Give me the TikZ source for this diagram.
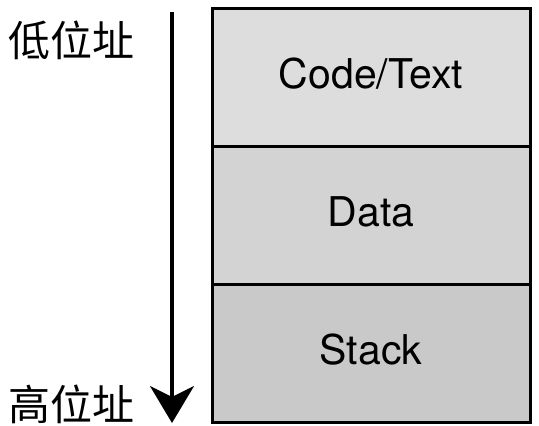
\documentclass[tikz,border=0pt]{standalone}
\usepackage{fontspec}
\setmainfont{TeX Gyre Heros}
\newfontfamily\cjk{Noto Sans CJK TC}
\usetikzlibrary{positioning}
\usetikzlibrary{arrows.meta}
\definecolor{segtop}{RGB}{221,221,221}
\definecolor{segmid}{RGB}{211,211,212}
\definecolor{segbot}{RGB}{201,201,202}

\begin{document}
\begin{tikzpicture}[
            x = 1pt, y = -1pt,
            > = {Stealth[length=37pt, width=44pt, inset=11pt]}, % big arrow head
            node distance = 0pt % segments touch each other
        ]

        \tikzstyle{segment}=[
            draw,
            line width = 3pt,
            minimum width = 318pt,
            minimum height = 138pt,
            inner sep = 0pt,
            outer sep = 0pt,
            text height = 30pt,
            text depth = 8pt,
            font = \fontsize{41}{41}\selectfont
        ]
        \tikzstyle{addr}=[
            inner sep = 0pt,
            font = \cjk\fontsize{42}{42}\selectfont
        ]

        \useasboundingbox (0,0) rectangle (539,426);

	% memory layout
        \node[segment, fill=segtop] (code) at (371,77) {Code/Text};
        \node[segment, fill=segmid] (data) [below=of code] {Data};
        \node[segment, fill=segbot] (stack) [below=of data] {Stack};

         % address direction
         \coordinate (top) at (172,12);
         \coordinate (bot) at (172,423);
         \draw[->, line width=3.5pt] (top) -- (bot);

         \node[addr] (low) at (72,40) {低位址};
         \node[addr] (high) at (72,404) {高位址};

  \end{tikzpicture}
\end{document}
